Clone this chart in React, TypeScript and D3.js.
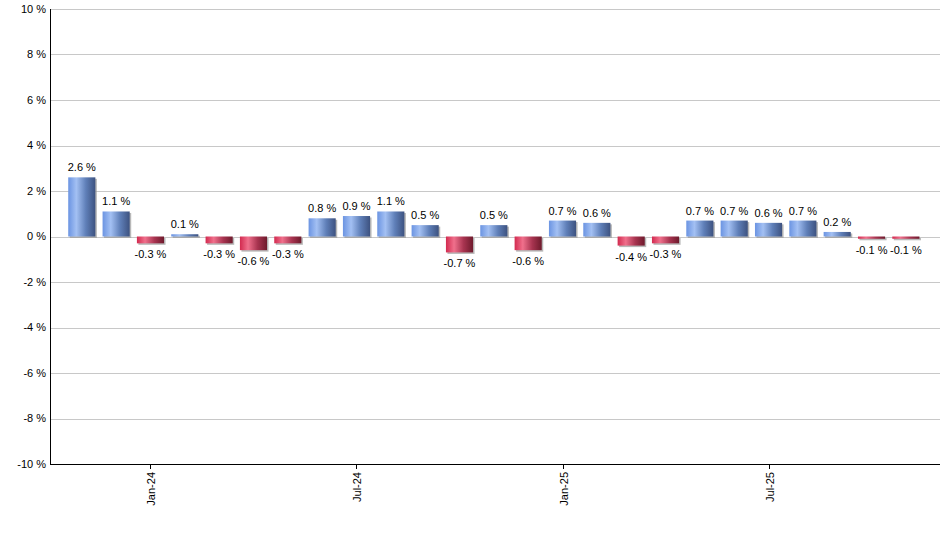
import React, {useEffect, useRef} from 'react';
import * as d3 from 'd3';

const months = [
  'Nov-23', 'Dec-23', 'Jan-24', 'Feb-24', 'Mar-24', 'Apr-24', 'May-24', 'Jun-24', 'Jul-24',
  'Aug-24', 'Sep-24', 'Oct-24', 'Nov-24', 'Dec-24', 'Jan-25', 'Feb-25', 'Mar-25', 'Apr-25',
  'May-25', 'Jun-25', 'Jul-25', 'Aug-25', 'Sep-25', 'Oct-25', 'Nov-25',
];
const changes = [
  2.6, 1.1, -0.3, 0.1, -0.3, -0.6, -0.3, 0.8, 0.9,
  1.1, 0.5, -0.7, 0.5, -0.6, 0.7, 0.6, -0.4, -0.3,
  0.7, 0.7, 0.6, 0.7, 0.2, -0.1, -0.1,
];
const yTicks = [-10, -8, -6, -4, -2, 0, 2, 4, 6, 8, 10];
const xTickLabels = ['Jan-24', 'Jul-24', 'Jan-25', 'Jul-25'];

function App() {
  const chartRef = useRef(null);

  const width = 940;
  const height = 550;
  const margin = {top: 9, right: 0, bottom: 86, left: 50};
  const innerW = width - margin.left - margin.right;
  const innerH = height - margin.top - margin.bottom;

  useEffect(() => {
    const svg = d3.select(chartRef.current);
    svg.selectAll('*').remove();

    const x = d3.scaleBand()
      .domain(months)
      .range([0, innerW])
      .paddingInner(0.21)
      .paddingOuter(0.565)
      .align(0.47);
    const y = d3.scaleLinear()
      .domain([-10, 10])
      .range([innerH, 0]);

    const defs = svg.append('defs');
    const grads = [
      {id: 'gradPos', stops: ['#6b94e2', '#a3c0f3', '#5f7fb8', '#3d5280']},
      {id: 'gradNeg', stops: ['#d22a4f', '#f0708c', '#a83450', '#6e1a2c']},
    ];
    grads.forEach(gr => {
      const lg = defs.append('linearGradient')
        .attr('id', gr.id)
        .attr('x1', '0%').attr('x2', '100%')
        .attr('y1', '0%').attr('y2', '0%');
      [0, 0.3, 0.65, 1].forEach((o, i) => {
        lg.append('stop').attr('offset', o).attr('stop-color', gr.stops[i]);
      });
    });

    const g = svg.append('g')
      .attr('transform', `translate(${margin.left},${margin.top})`);

    // grid
    g.append('g')
      .selectAll('line')
      .data(yTicks)
      .enter()
      .append('line')
      .attr('x1', 0)
      .attr('x2', innerW)
      .attr('y1', d => Math.round(y(d)) + 0.5)
      .attr('y2', d => Math.round(y(d)) + 0.5)
      .attr('stroke', '#c8c8c8')
      .attr('stroke-width', 1);

    // y labels
    g.append('g')
      .selectAll('text')
      .data(yTicks)
      .enter()
      .append('text')
      .attr('x', -4)
      .attr('y', d => y(d))
      .attr('dy', '0.35em')
      .attr('text-anchor', 'end')
      .attr('font-size', 11)
      .attr('fill', '#000')
      .text(d => `${d} %`);

    // shadows
    g.append('g')
      .selectAll('rect')
      .data(changes)
      .enter()
      .append('rect')
      .attr('x', (d, i) => (x(months[i]) as number) + 1.5)
      .attr('y', d => Math.min(y(d), y(0)) + 1.5)
      .attr('width', x.bandwidth())
      .attr('height', d => Math.abs(y(d) - y(0)))
      .attr('fill', '#9a9a9a')
      .attr('opacity', 0.7);

    // bars
    g.append('g')
      .selectAll('rect')
      .data(changes)
      .enter()
      .append('rect')
      .attr('x', (d, i) => x(months[i]) as number)
      .attr('y', d => Math.min(y(d), y(0)))
      .attr('width', x.bandwidth())
      .attr('height', d => Math.abs(y(d) - y(0)))
      .attr('fill', d => d >= 0 ? 'url(#gradPos)' : 'url(#gradNeg)');

    // value labels
    g.append('g')
      .selectAll('text')
      .data(changes)
      .enter()
      .append('text')
      .attr('x', (d, i) => (x(months[i]) as number) + x.bandwidth() / 2)
      .attr('y', d => d >= 0 ? y(d) - 6 : y(d) + 15)
      .attr('text-anchor', 'middle')
      .attr('font-size', 11)
      .attr('fill', '#000')
      .text(d => `${d} %`);

    // axes
    g.append('line')
      .attr('x1', 0.5).attr('x2', 0.5)
      .attr('y1', 0).attr('y2', innerH)
      .attr('stroke', '#000');
    g.append('line')
      .attr('x1', 0).attr('x2', innerW)
      .attr('y1', innerH + 0.5).attr('y2', innerH + 0.5)
      .attr('stroke', '#000');

    const xt = g.append('g')
      .selectAll('g')
      .data(xTickLabels)
      .enter()
      .append('g')
      .attr('transform', d => `translate(${Math.round((x(d) as number) + x.bandwidth() / 2) + 0.5},${innerH})`);
    xt.append('line')
      .attr('y1', 0).attr('y2', 5)
      .attr('stroke', '#000');
    xt.append('text')
      .attr('transform', 'translate(4,8) rotate(-90)')
      .attr('text-anchor', 'end')
      .attr('font-size', 11)
      .attr('fill', '#000')
      .text(d => d);
  }, []);

  return (
    <svg ref={chartRef} width={width} height={height}
      style={{position: 'absolute', left: 0, top: 0, fontFamily: '"Liberation Sans", Arial, sans-serif'}}/>
  );
}

export default App;
